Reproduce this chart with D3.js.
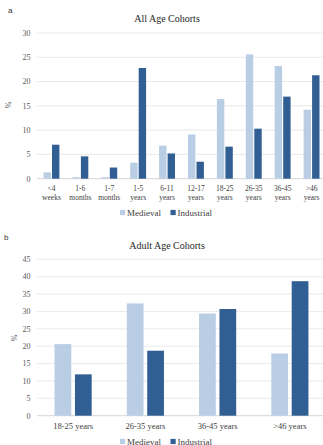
<!DOCTYPE html>
<html>
<head>
<meta charset="utf-8">
<script src="https://cdn.jsdelivr.net/npm/d3@7"></script>
<style>
  body { margin: 0; background: #fff; }
  svg text { font-family: "Liberation Serif", "DejaVu Serif", serif; }
</style>
</head>
<body>
<div id="chart"></div>
<script>
// panel a
var allCats = ["<4\nweeks", "1-6\nmonths", "1-7\nmonths", "1-5\nyears", "6-11\nyears",
               "12-17\nyears", "18-25\nyears", "26-35\nyears", "36-45\nyears", ">46\nyears"];
var allMedieval   = [1.3, 0.3, 0.3, 3.3, 6.8, 9.1, 16.4, 25.6, 23.2, 14.2];
var allIndustrial = [7.0, 4.6, 2.3, 22.8, 5.2, 3.5, 6.6, 10.3, 16.9, 21.3];
var allTicks = [0, 5, 10, 15, 20, 25, 30];

// panel b
var adultCats = ["18-25 years", "26-35 years", "36-45 years", ">46 years"];
var adultMedieval   = [20.6, 32.3, 29.4, 17.9];
var adultIndustrial = [11.9, 18.7, 30.7, 38.7];
var adultTicks = [0, 5, 10, 15, 20, 25, 30, 35, 40, 45];

var seriesNames = ["Medieval", "Industrial"];
var colors = {"Medieval": "#b9cde5", "Industrial": "#325f93"};

var svg = d3.select("#chart").append("svg")
    .attr("width", 323)
    .attr("height", 445);

function drawPanel(opt) {
    var g = svg.append("g");

    var y = d3.scaleLinear()
        .domain([0, d3.max(opt.ticks)])
        .range([opt.bottom, opt.top]);

    var x0 = d3.scaleBand()
        .domain(opt.cats)
        .range([opt.left, opt.right]);

    var bw = x0.bandwidth();
    var x1 = d3.scaleBand()
        .domain(seriesNames)
        .range([bw * opt.outer, bw * (1 - opt.outer)])
        .paddingInner(opt.inner);

    // gridlines
    g.selectAll(".grid")
        .data(opt.ticks).enter().append("line")
        .attr("x1", opt.left).attr("x2", opt.right)
        .attr("y1", function(d) { return y(d); })
        .attr("y2", function(d) { return y(d); })
        .attr("stroke", function(d) { return d == 0 ? "#c9c9c9" : "#e3e3e3"; })
        .attr("stroke-width", 0.8);

    // y tick labels
    g.selectAll(".ytick")
        .data(opt.ticks).enter().append("text")
        .attr("x", 30.5)
        .attr("y", function(d) { return y(d) + 2.8; })
        .attr("text-anchor", "end")
        .attr("font-size", 8)
        .attr("fill", "#595959")
        .text(function(d) { return d; });

    var rows = opt.cats.map(function(c, i) {
        return {cat: c, Medieval: opt.medieval[i], Industrial: opt.industrial[i]};
    });

    var groups = g.selectAll(".cat")
        .data(rows).enter().append("g")
        .attr("transform", function(d) { return "translate(" + x0(d.cat) + ",0)"; });

    groups.selectAll("rect")
        .data(function(d) { return seriesNames.map(function(s) { return {key: s, value: d[s]}; }); })
        .enter().append("rect")
        .attr("x", function(d) { return x1(d.key); })
        .attr("width", x1.bandwidth())
        .attr("y", function(d) { return y(d.value); })
        .attr("height", function(d) { return y(0) - y(d.value); })
        .attr("fill", function(d) { return colors[d.key]; });

    // category labels
    var lab = g.selectAll(".xlab")
        .data(opt.cats).enter().append("text")
        .attr("text-anchor", "middle")
        .attr("font-size", opt.labSize)
        .attr("fill", "#404040")
        .attr("x", function(d) { return x0(d) + bw / 2; })
        .attr("y", y(0) + opt.labOffset);
    lab.selectAll("tspan")
        .data(function(d) { return d.split("\n"); })
        .enter().append("tspan")
        .attr("x", function() { return d3.select(this.parentNode).attr("x"); })
        .attr("dy", function(d, i) { return i == 0 ? 0 : 8.8; })
        .text(function(d) { return d; });

    // title
    g.append("text")
        .attr("x", 167).attr("y", opt.titleY)
        .attr("text-anchor", "middle")
        .attr("font-size", 10)
        .attr("fill", "#262626")
        .text(opt.title);

    // % axis label
    g.append("text")
        .attr("transform", "translate(" + opt.pctX + "," + opt.pctY + ") rotate(-90)")
        .attr("text-anchor", "middle")
        .attr("font-size", 8)
        .attr("fill", "#595959")
        .text("%");

    // panel letter
    g.append("text")
        .attr("x", opt.letterX).attr("y", opt.letterY)
        .attr("font-size", 8)
        .attr("fill", "#333")
        .style("font-family", "'Liberation Sans', Arial, sans-serif")
        .text(opt.letter);

    // legend
    var legX = [120, 170.5];
    var leg = g.selectAll(".leg")
        .data(seriesNames).enter().append("g")
        .attr("transform", function(d, i) { return "translate(" + legX[i] + "," + opt.legendY + ")"; });
    leg.append("rect")
        .attr("x", 0).attr("y", -2.6)
        .attr("width", 5.2).attr("height", 5.2)
        .attr("fill", function(d) { return colors[d]; });
    leg.append("text")
        .attr("x", 7).attr("y", 3)
        .attr("font-size", 9)
        .attr("fill", "#404040")
        .text(function(d) { return d; });
}

drawPanel({
    cats: allCats, medieval: allMedieval, industrial: allIndustrial, ticks: allTicks,
    top: 33, bottom: 178.7, left: 37, right: 326,
    outer: 0.225, inner: 0.13, labOffset: 12, labSize: 7.5,
    title: "All Age Cohorts", titleY: 22,
    pctX: 11, pctY: 105, letter: "a", letterX: 8, letterY: 13,
    legendY: 212.5
});

drawPanel({
    cats: adultCats, medieval: adultMedieval, industrial: adultIndustrial, ticks: adultTicks,
    top: 259.3, bottom: 415.7, left: 37, right: 326,
    outer: 0.243, inner: 0.18, labOffset: 13, labSize: 8.5,
    title: "Adult Age Cohorts", titleY: 249,
    pctX: 17, pctY: 338, letter: "b", letterX: 4, letterY: 240,
    legendY: 441.5
});
</script>
</body>
</html>
